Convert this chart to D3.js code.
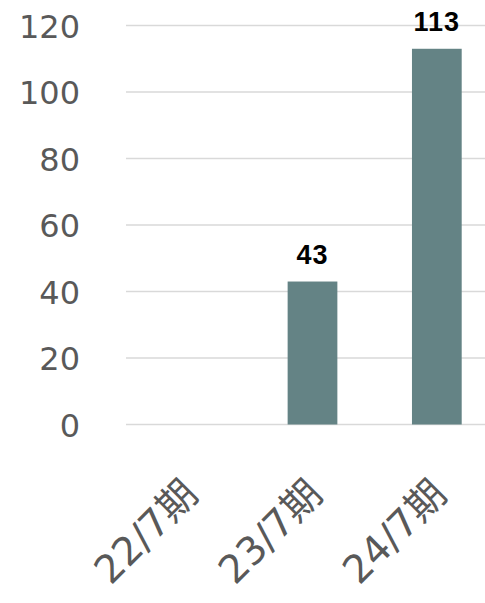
<!DOCTYPE html>
<html><head><meta charset="utf-8">
<script src="https://cdn.jsdelivr.net/npm/d3@7/dist/d3.min.js"></script>
<style>html,body{margin:0;padding:0;background:#fff;overflow:hidden}</style>
</head><body>
<svg id="c" width="485" height="603"></svg>
<script>
const categories = ["22/7期", "23/7期", "24/7期"];
const values = [null, 43, 113];
const yTicks = [0, 20, 40, 60, 80, 100, 120];

const svg = d3.select("#c");
const x = d3.scaleBand().domain(categories).range([126, 499]).paddingInner(0.6).paddingOuter(0.3);
const y = d3.scaleLinear().domain([0, 120]).range([424.5, 25.5]);

// gridlines
svg.append("g").selectAll("line").data(yTicks).join("line")
  .attr("x1", 126).attr("x2", 499)
  .attr("y1", d => y(d)).attr("y2", d => y(d))
  .attr("stroke", "#d9d9d9").attr("stroke-width", 1.5);

// y axis labels
const yAxis = d3.axisLeft(y).tickValues(yTicks).tickSize(0).tickPadding(0);
const gy = svg.append("g").attr("transform", "translate(80,0)").call(yAxis);
gy.select(".domain").remove();
gy.selectAll("text").attr("font-family", "'DejaVu Sans', sans-serif")
  .attr("font-size", 32).attr("fill", "#595959").attr("dy", "0.36em");

// bars
const data = categories.map((c, i) => ({c, v: values[i]})).filter(d => d.v != null);
svg.append("g").selectAll("rect").data(data).join("rect")
  .attr("x", d => x(d.c)).attr("width", x.bandwidth())
  .attr("y", d => y(d.v)).attr("height", d => y(0) - y(d.v))
  .attr("fill", "#648385");

// value labels
svg.append("g").selectAll("text").data(data).join("text")
  .attr("x", d => x(d.c) + x.bandwidth() / 2)
  .attr("y", d => y(d.v) - 18)
  .attr("text-anchor", "middle")
  .attr("font-family", "'Liberation Sans', Arial, sans-serif")
  .attr("font-weight", "bold").attr("font-size", 27).attr("letter-spacing", 1)
  .attr("fill", "#000").text(d => d.v);

// x axis labels
const xAxis = d3.axisBottom(x).tickSize(0).tickPadding(0);
const gx = svg.append("g").attr("transform", "translate(0,424.5)").call(xAxis);
gx.select(".domain").remove();
gx.selectAll("text")
  .attr("font-family", "'DejaVu Sans', 'Noto Sans CJK JP', sans-serif")
  .attr("font-size", 39).attr("fill", "#595959")
  .attr("text-anchor", "end").attr("dy", null).attr("y", null)
  .attr("transform", "translate(12,72) rotate(-45)");
</script>
</body></html>
